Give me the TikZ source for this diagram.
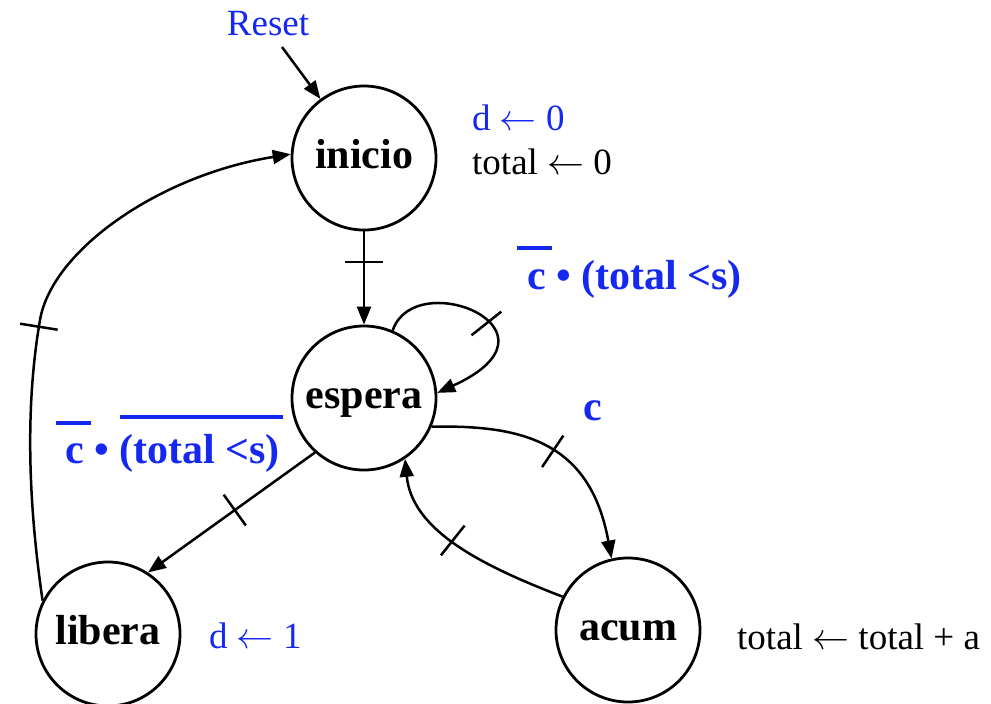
\RequirePackage{fix-cm}
\documentclass[tikz,border=0pt]{standalone}
\usepackage{fontspec}
\setmainfont{Liberation Serif}
\usetikzlibrary{arrows.meta,decorations.markings}
\definecolor{lblue}{RGB}{20,40,240}
\newcommand{\larr}{$\leftarrow$}
\begin{document}
\begin{tikzpicture}[x=1pt,y=-1pt,
 state/.style={circle,draw,line width=2.8pt,minimum size=144pt,inner sep=0pt,text height=21pt,text depth=0pt,font=\fontsize{42}{46}\selectfont\bfseries},
 edge/.style={line width=2.5pt,-{Triangle[length=18pt,width=14pt]}},
 plain/.style={font=\fontsize{37}{41}\selectfont,inner sep=0pt,anchor=west},
 cond/.style={font=\fontsize{42}{46}\selectfont\bfseries,text=lblue,inner sep=0pt,anchor=west},
 barat/.style={postaction={decorate,decoration={markings,mark=at position #1 with {\draw[-,line width=2.5pt] (0pt,-19pt) -- (0pt,19pt);}}}},
 ovl/.style={draw=lblue,line width=4pt}
]
\useasboundingbox (0,0) rectangle (991,704);

% states
\node[state] (inicio) at (364,158) {inicio};
\node[state] (espera) at (364,398) {espera};
\node[state] (libera) at (108,634) {libera};
\node[state] (acum)   at (628,630) {acum};

% texts
\node[plain,text=lblue,anchor=center] (reset) at (268,24) {Reset};
\coordinate (rs) at (282,47);
\node[plain,text=lblue] (d0) at (472,118) {d \larr{} 0};
\node[plain] (t0) at (472,162) {total \larr{} 0};
\node[plain,text=lblue] (d1) at (209,636) {d \larr{} 1};
\node[plain] (ta) at (737,637) {total \larr{} total + a};
\node[cond,anchor=center] (cc) at (593,411) {c};
\node[cond] (loopcond) at (527,279) {c • (total <s)};
\node[cond] (libcond) at (65,453) {c • (total <s)};

% overlines
\draw[ovl] (517,248) -- (552,248);
\draw[ovl] (56,423) -- (91,423);
\draw[ovl] (120,417) -- (283,417);

% transitions
\draw[edge] (rs) -- (inicio);
\draw[edge,barat=0.33] (inicio) -- (espera);
\draw[edge,barat=0.53] (espera.67) .. controls (415,265) and (575,330) .. (espera.4);
\draw[edge,barat=0.48] (espera.228) -- (libera.57);
\draw[edge,barat=0.5] (espera.-23) .. controls (520,425) and (590,440) .. (acum.103);
\draw[edge,barat=0.56] (acum.153) .. controls (480,565) and (412,530) .. (espera.-56);
\draw[edge,barat=0.46] (libera.153) .. controls (25,480) and (28,390) .. (40,320) .. controls (52,250) and (160,175) .. (inicio.177);
\end{tikzpicture}
\end{document}
